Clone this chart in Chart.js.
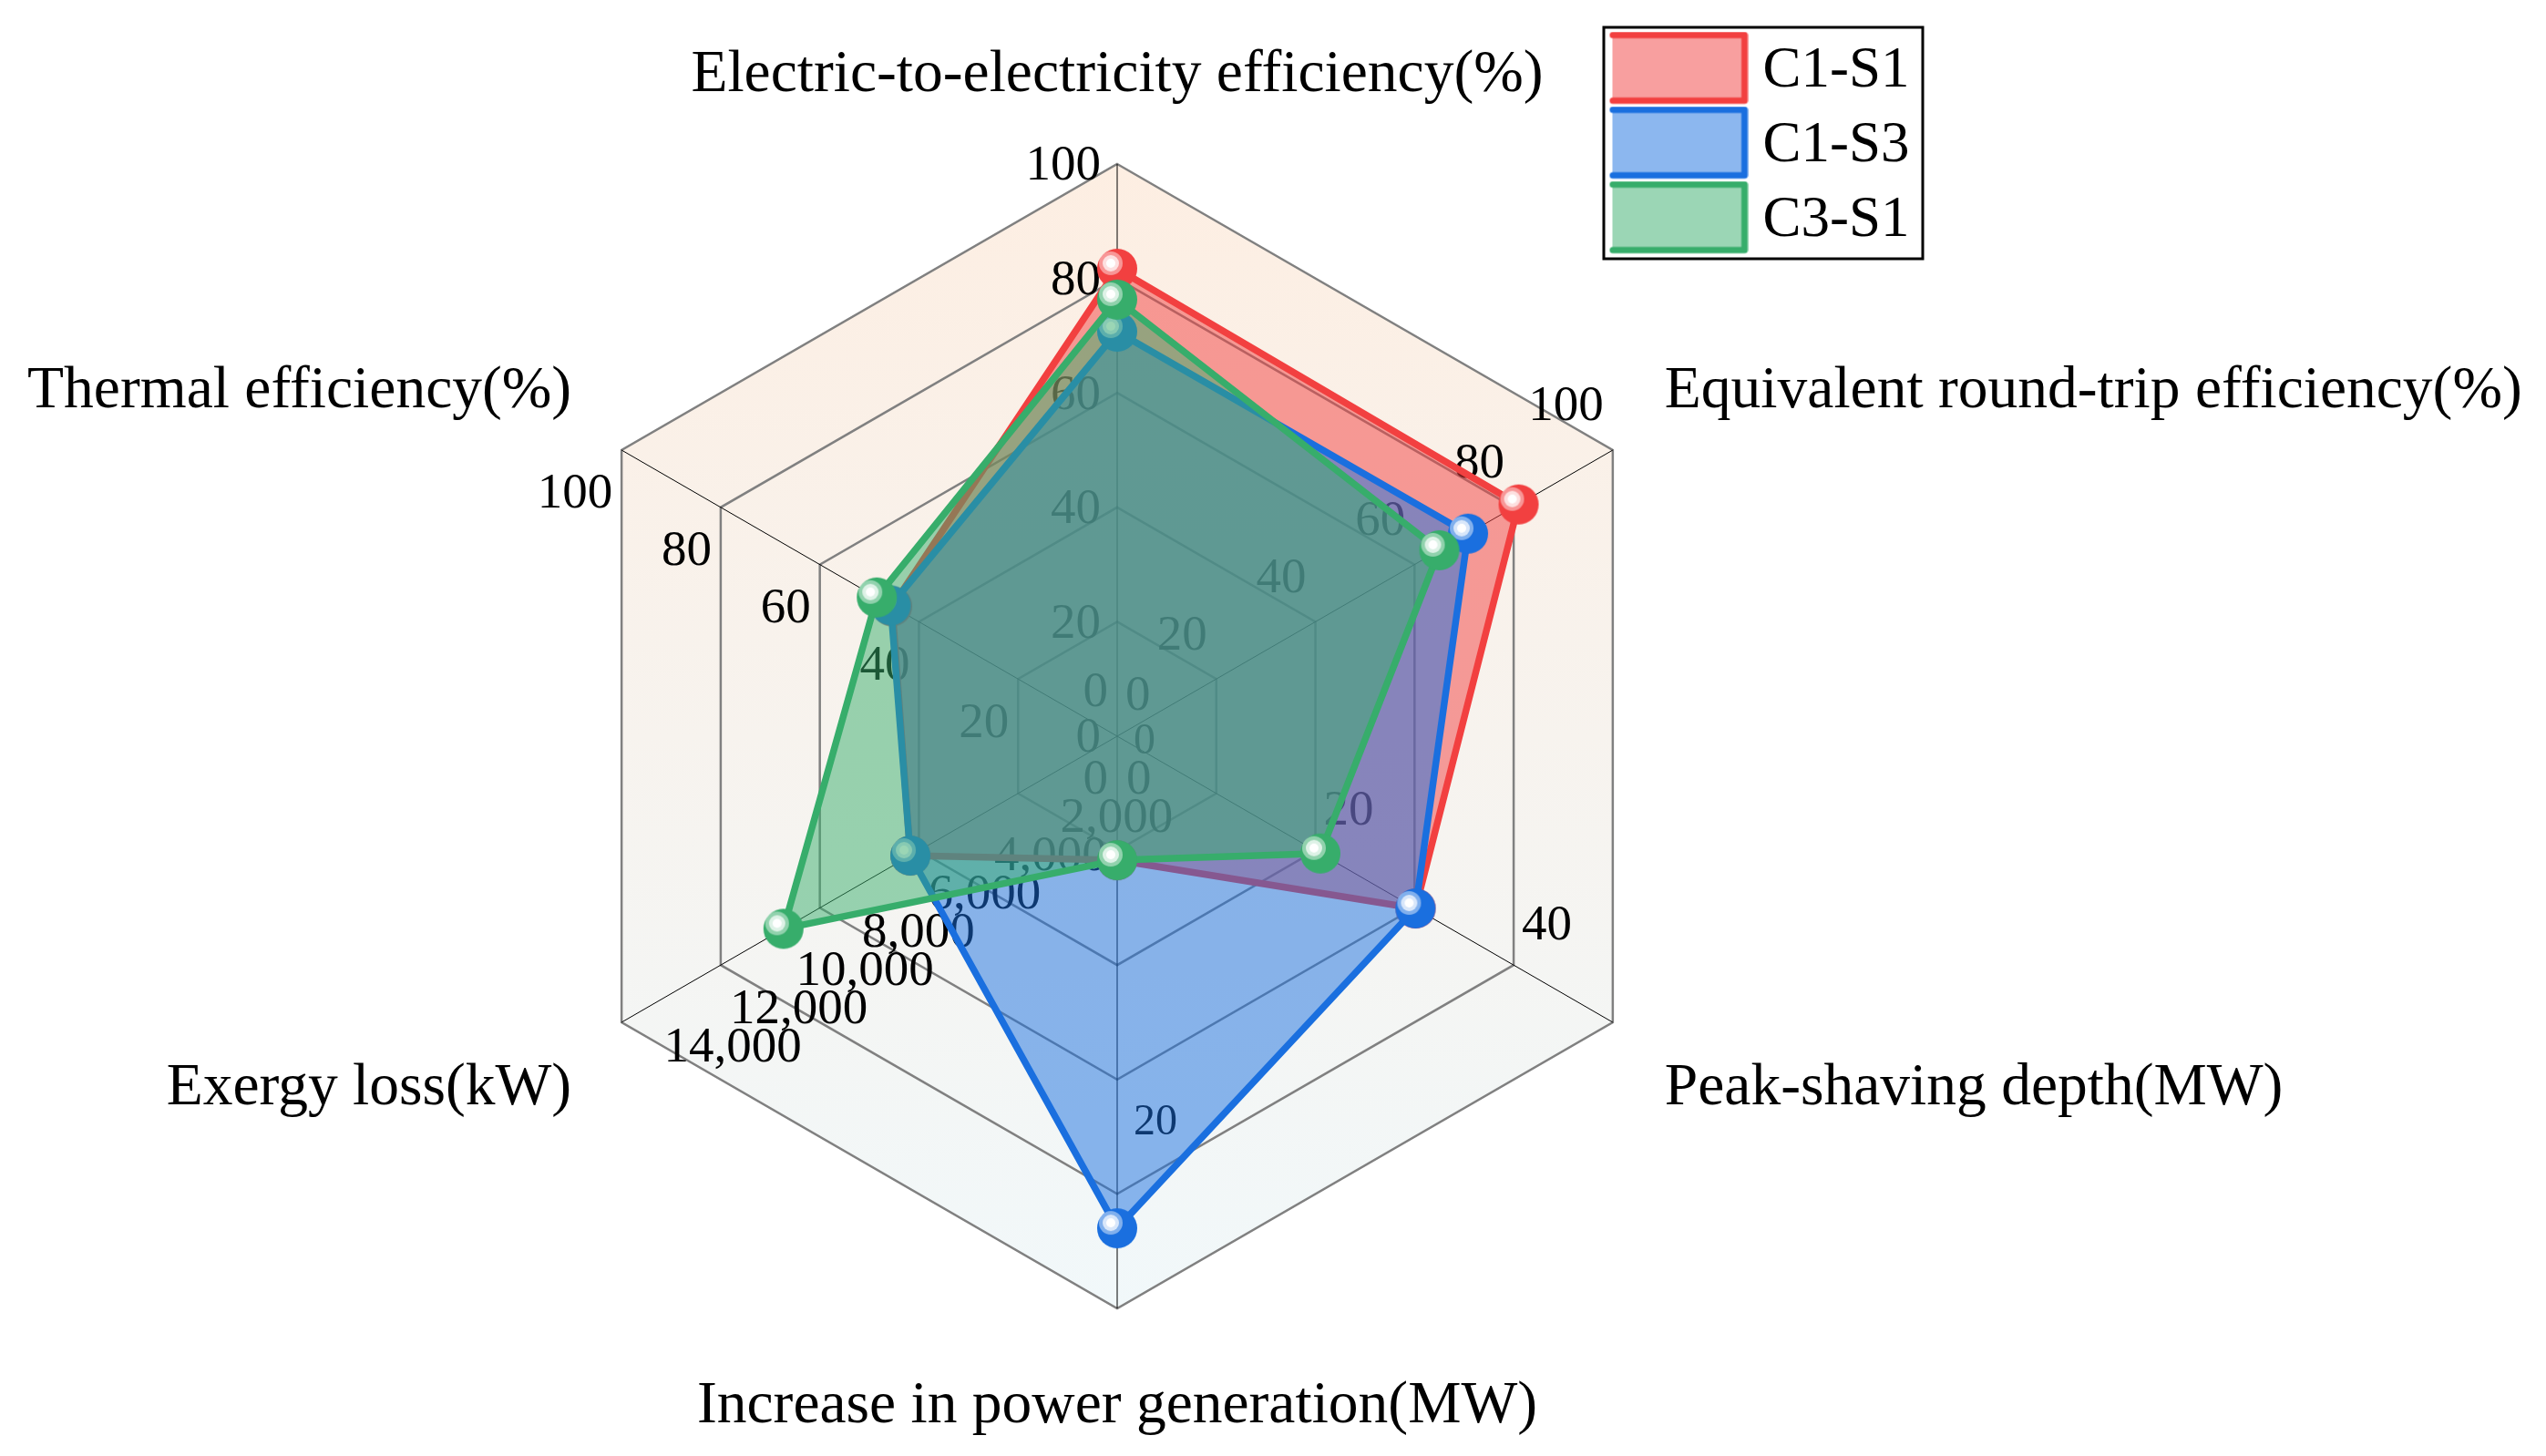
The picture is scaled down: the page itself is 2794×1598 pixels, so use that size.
<!DOCTYPE html>
<html>
<head>
  <meta charset="UTF-8" />
  <title>Radar</title>
  <script src="https://cdn.jsdelivr.net/npm/chart.js"></script>
  <style>
    html, body { margin: 0; background: #fff; }
    canvas { display: block; }
  </style>
</head>
<body>
  <canvas id="radar" width="2794" height="1598"></canvas>

  <script>
    const categories = [
      "Electric-to-electricity efficiency(%)",
      "Equivalent round-trip efficiency(%)",
      "Peak-shaving depth(MW)",
      "Increase in power generation(MW)",
      "Exergy loss(kW)",
      "Thermal efficiency(%)"
    ];

    // every spoke has its own axis, these are the tops of them
    const axisMax = [100, 100, 50, 30, 15000, 100];

    const c1s1 = [81.7, 81, 30.1, 6.5, 6260, 45.4];
    const c1s3 = [70.7, 70.8, 30.1, 25.8, 6260, 45.7];
    const c3s1 = [76.3, 65, 20.5, 6.5, 10100, 48.5];

    const ticksElectric = [0, 20, 40, 60, 80, 100];
    const ticksRoundTrip = [0, 20, 40, 60, 80, 100];
    const ticksPeak = [0, 20, 40];
    const ticksPower = [0, 20];
    const ticksExergy = [0, 2000, 4000, 6000, 8000, 10000, 12000, 14000];
    const ticksThermal = [0, 20, 40, 60, 80, 100];

    const FONT = '"Liberation Serif"';
    const canvas = document.getElementById("radar");
    const ctx = canvas.getContext("2d");

    const bg = ctx.createLinearGradient(0, 180, 0, 1436);
    bg.addColorStop(0, "#fdeee2");
    bg.addColorStop(1, "#f1f8fa");

    // tick labels per spoke: where they sit next to the spoke
    const tickStyles = [
      { ticks: ticksElectric, align: "right", dx: -18, dy: 3, size: 55 },
      { ticks: ticksRoundTrip, align: "right", dx: -10, dy: -47, size: 55 },
      { ticks: ticksPeak, align: "left", dx: 9, dy: -43, size: 55 },
      { ticks: ticksPower, align: "left", dx: 18, dy: 6, size: 48 },
      { ticks: ticksExergy, align: "left", dx: 10, dy: 49, size: 55 },
      { ticks: ticksThermal, align: "right", dx: -10, dy: 49, size: 55 }
    ];

    // category titles around the hexagon, offset from the outer vertex
    const titleStyles = [
      { align: "center", dx: 0, dy: -97 },
      { align: "left", dx: 57, dy: -64 },
      { align: "left", dx: 57, dy: 73 },
      { align: "center", dx: 0, dy: 108 },
      { align: "right", dx: -55, dy: 73 },
      { align: "right", dx: -55, dy: -64 }
    ];

    function ball(color) {
      const c = document.createElement("canvas");
      c.width = c.height = 46;
      const g = c.getContext("2d");
      g.fillStyle = color;
      g.beginPath(); g.arc(23, 23, 22, 0, Math.PI * 2); g.fill();
      const rings = [[13, 0.45], [9, 0.7], [5, 1]];
      rings.forEach(([r, a]) => {
        g.fillStyle = "rgba(255,255,255," + a + ")";
        g.beginPath(); g.arc(16, 17, r, 0, Math.PI * 2); g.fill();
      });
      return c;
    }

    function swatch(color, fill) {
      const c = document.createElement("canvas");
      c.width = 167; c.height = 87;
      const g = c.getContext("2d");
      g.fillStyle = fill;
      g.fillRect(18, 4, 145, 72);
      g.strokeStyle = color;
      g.lineWidth = 7;
      g.lineCap = "round";
      g.lineJoin = "round";
      g.beginPath();
      g.moveTo(18.5, 4); g.lineTo(163, 4); g.lineTo(163, 76); g.lineTo(18.5, 76);
      g.stroke();
      return c;
    }

    const seriesStyles = [
      { label: "C1-S1", values: c1s1, color: "#f24040", fill: "rgba(242,64,64,0.5)", order: 3 },
      { label: "C1-S3", values: c1s3, color: "#1a6fdf", fill: "rgba(26,111,223,0.5)", order: 2 },
      { label: "C3-S1", values: c3s1, color: "#37ad6b", fill: "rgba(55,173,107,0.5)", order: 1 }
    ];

    // tick labels go under the fills, so they are drawn before the datasets
    const spokeLabels = {
      id: "spokeLabels",
      beforeDatasetsDraw(chart) {
        const scale = chart.scales.r;
        const c = chart.ctx;
        c.save();
        c.fillStyle = "#000";
        c.textBaseline = "middle";
        tickStyles.forEach((axis, i) => {
          c.font = axis.size + "px " + FONT;
          c.textAlign = axis.align;
          axis.ticks.forEach(v => {
            const dist = scale.getDistanceFromCenterForValue(v / axisMax[i] * 100);
            const p = scale.getPointPosition(i, dist);
            c.fillText(v.toLocaleString("en-US"), p.x + axis.dx, p.y + axis.dy);
          });
        });
        // the built in point labels shrink the hexagon too much with titles this long
        c.font = "65.5px " + FONT;
        titleStyles.forEach((t, i) => {
          const p = scale.getPointPosition(i, scale.drawingArea);
          c.textAlign = t.align;
          c.fillText(categories[i], p.x + t.dx, p.y + t.dy);
        });
        c.restore();
      }
    };

    // legend lives top right with a frame round it
    const legendBox = {
      id: "legendBox",
      afterLayout(chart) {
        const l = chart.legend;
        l.left = 1748; l.top = 27.5; l.right = 2110; l.bottom = 320;
        l.width = l.right - l.left; l.height = l.bottom - l.top;
      },
      afterDraw(chart) {
        const c = chart.ctx;
        c.save();
        c.strokeStyle = "#000";
        c.lineWidth = 3;
        c.strokeRect(1760, 30, 350, 254);
        c.restore();
      }
    };

    new Chart(ctx, {
      type: "radar",
      data: {
        labels: categories,
        datasets: seriesStyles.map(s => ({
          label: s.label,
          data: s.values.map((v, i) => v / axisMax[i] * 100),
          order: s.order,
          fill: true,
          tension: 0,
          borderColor: s.color,
          backgroundColor: s.fill,
          borderWidth: 7.5,
          borderJoinStyle: "round",
          pointStyle: ball(s.color),
          pointRadius: 22
        }))
      },
      options: {
        responsive: false,
        devicePixelRatio: 1,
        animation: false,
        layout: { padding: { left: 0, right: 342, top: 180, bottom: 162 } },
        scales: {
          r: {
            min: 0,
            max: 100,
            backgroundColor: bg,
            ticks: { display: false, stepSize: 20 },
            grid: { color: "#808080", lineWidth: 2.5 },
            angleLines: { color: "#000", lineWidth: 1 },
            pointLabels: { display: false }
          }
        },
        plugins: {
          tooltip: { enabled: false },
          legend: {
            position: "chartArea",
            align: "start",
            labels: {
              color: "#000",
              font: { family: FONT, size: 63 },
              usePointStyle: true,
              pointStyleWidth: 136,
              padding: 19,
              generateLabels: chart => seriesStyles.map((s, i) => ({
                text: s.label,
                datasetIndex: i,
                fontColor: "#000",
                pointStyle: swatch(s.color, s.fill)
              }))
            }
          }
        }
      },
      plugins: [spokeLabels, legendBox]
    });
  </script>
</body>
</html>
